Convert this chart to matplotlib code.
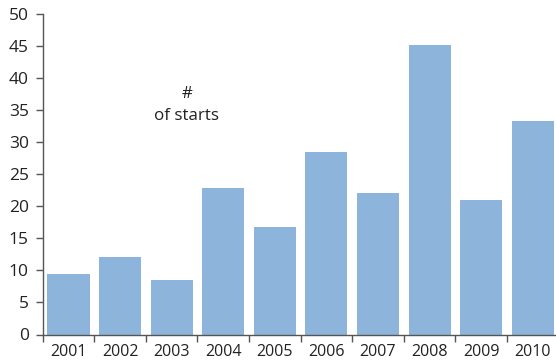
import matplotlib
matplotlib.use("Agg")
import matplotlib.pyplot as plt
import numpy as np

years = ["2001", "2002", "2003", "2004", "2005", "2006", "2007", "2008", "2009", "2010"]
starts = [9.4, 12.1, 8.5, 22.8, 16.7, 28.4, 22.0, 45.1, 20.9, 33.3]
yticks = [0, 5, 10, 15, 20, 25, 30, 35, 40, 45, 50]

plt.rcParams['font.family'] = ['Open Sans', 'DejaVu Sans']
W, H = 556, 362
fig = plt.figure(figsize=(W / 100, H / 100), dpi=100)
left, right = 42.7, 558.5
bottom, top = 334.5, 13.5
ax = fig.add_axes([left / W, 1 - bottom / H, (right - left) / W, (bottom - top) / H])

x = np.arange(len(years))
ax.bar(x, starts, width=0.815, color="#8DB5DB", zorder=2)
ax.set_xlim(-0.5, len(years) - 0.5)
ax.set_ylim(0, 50)
ax.set_yticks(yticks)
ax.set_yticklabels([str(v) for v in yticks])
ax.set_xticks(x)
ax.set_xticklabels(years)
ax.set_xticks(np.arange(-0.5, len(years), 1.0), minor=True)

spine_c = "#555555"
for s in ["top", "right"]:
    ax.spines[s].set_visible(False)
for s in ["left", "bottom"]:
    ax.spines[s].set_color(spine_c)
    ax.spines[s].set_linewidth(1.0)

ax.tick_params(axis="y", direction="out", length=5, width=1, color=spine_c,
               labelsize=12.5, labelcolor="#222222", pad=5)
ax.tick_params(axis="x", which="major", length=0, labelsize=11.5, labelcolor="#222222", pad=7)
ax.tick_params(axis="x", which="minor", direction="out", length=5, width=1, color=spine_c)

ax.text(2.29, 37.5, "#", ha="center", va="center", fontsize=12.2, color="#222222")
ax.text(2.29, 33.4, "of starts", ha="center", va="baseline", fontsize=12.2, color="#222222")

fig.savefig("out.png", dpi=100)
